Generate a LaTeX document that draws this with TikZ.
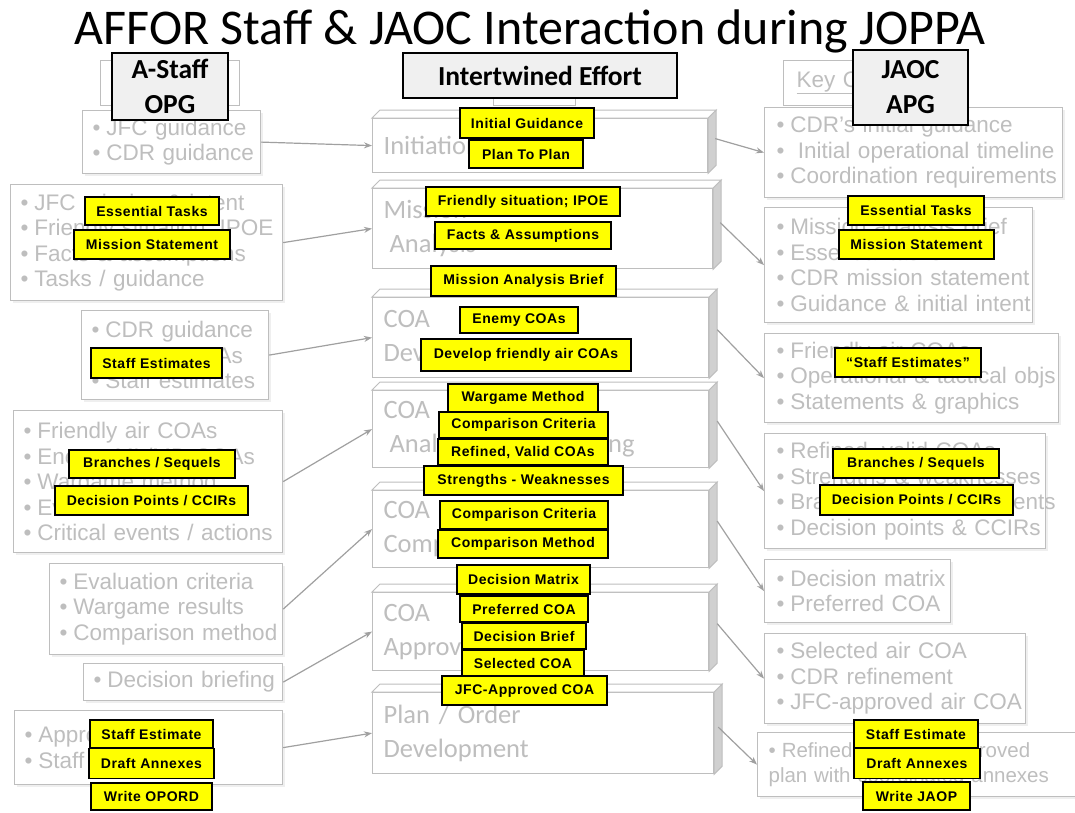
\documentclass[tikz,border=0pt]{standalone}
\usepackage{fontspec}
\setmainfont{Liberation Sans}
\newfontfamily\calfont{Carlito}
\newfontfamily\tagfont[LetterSpace=4]{Liberation Sans}
\usetikzlibrary{arrows.meta,calc,shadows}
\definecolor{fadetxt}{RGB}{190,190,190}
\definecolor{fadeline}{RGB}{190,190,190}
\definecolor{sideface}{RGB}{208,208,208}
\definecolor{arrowgray}{RGB}{160,160,160}
\definecolor{hdrfill}{RGB}{240,240,240}
\definecolor{tagyellow}{RGB}{255,255,0}
\newcommand\fbul[1]{\mbox{\textbullet\hspace{6pt}#1}}

\begin{document}
\begin{tikzpicture}[x=1pt,y=-1pt,
  fbox/.style={draw=fadeline, line width=1.2pt, fill=white, anchor=north west,
    inner xsep=10pt, inner ysep=0pt, align=left, text=fadetxt,
    font=\fontsize{22.5}{25.5}\selectfont,
    drop shadow={shadow xshift=2pt, shadow yshift=-2pt, opacity=0.12}},
  ghost/.style={draw=fadeline, line width=1.2pt, fill=white, anchor=north west,
    inner xsep=13pt, inner ysep=0pt, align=left, text=fadetxt,
    font=\fontsize{22.5}{25.5}\selectfont},
  blk/.style={draw=fadeline, line width=1.2pt, fill=white, anchor=north west,
    inner xsep=11pt, inner ysep=0pt, align=left, text=fadetxt,
    font=\calfont\fontsize{26.5}{34}\selectfont},
  face/.style={draw=fadeline, line width=1pt},
  conn/.style={draw=arrowgray, line width=1.2pt, -{Stealth[length=8pt,width=6pt]}},
  hdr/.style={draw=black, line width=2pt, fill=hdrfill, align=center, inner sep=0pt,
    font=\calfont\bfseries\fontsize{27.5}{35}\selectfont},
  tag/.style={draw=black, line width=1.1pt, fill=tagyellow, text=black, inner sep=0pt,
    minimum height=28pt, font=\tagfont\bfseries\fontsize{14}{15}\selectfont}
]
\useasboundingbox (0,0) rectangle (1075,812);
\fill[white] (0,0) rectangle (1075,812);

% title
\node[font=\calfont\fontsize{50}{56}\selectfont] (title) at (530,31)
  {AFFOR Staff \& JAOC Interaction during JOPPA};

% faded column headers underneath the overlays
\node[ghost, minimum width=139pt, minimum height=45pt] (hA) at (100,60) {};
\node[ghost, minimum width=82pt, minimum height=45pt] (hI) at (493,60) {};
\node[ghost, text width=136pt, minimum height=45pt] (hK) at (783,60) {\underline{Key Outputs}};

% A-Staff inputs (left column)
\node[fbox, text width=158pt, minimum height=63pt] (L1) at (82,110)
  {\fbul{JFC guidance}\\\fbul{CDR guidance}};
\node[fbox, text width=252pt, minimum height=116pt] (L2) at (10,184)
  {\fbul{JFC mission \& intent}\\\fbul{Friendly situation; IPOE}\\\fbul{Facts \& assumptions}\\\fbul{Tasks / guidance}};
\node[fbox, text width=167pt, minimum height=89pt] (L3) at (81,310)
  {\fbul{CDR guidance}\\\fbul{Enemy COAs}\\\fbul{Staff estimates}};
\node[fbox, text width=249pt, minimum height=142pt] (L4) at (13,410)
  {\fbul{Friendly air COAs}\\\fbul{Enemy ML/MD COAs}\\\fbul{Wargame method}\\\fbul{Evaluation criteria}\\\fbul{Critical events / actions}};
\node[fbox, text width=213pt, minimum height=91pt] (L5) at (49,563)
  {\fbul{Evaluation criteria}\\\fbul{Wargame results}\\\fbul{Comparison method}};
\node[fbox, text width=179pt, minimum height=37pt] (L6) at (83,663)
  {\fbul{Decision briefing}};
\node[fbox, text width=248pt, minimum height=74pt] (L7) at (14,710)
  {\fbul{Approved COA}\\\fbul{Staff estimates}};

% JAOC outputs (right column)
\node[fbox, inner xsep=12pt, text width=274pt, minimum height=90pt] (R1) at (764,107)
  {\fbul{CDR’s initial guidance}\\\fbul{\ Initial operational timeline}\\\fbul{Coordination requirements}};
\node[fbox, inner xsep=12pt, text width=244pt, minimum height=115pt] (R2) at (764,207)
  {\fbul{Mission analysis brief}\\\fbul{Essential tasks}\\\fbul{CDR mission statement}\\\fbul{Guidance \& initial intent}};
\node[fbox, inner xsep=12pt, text width=270pt, minimum height=89pt] (R3) at (764,333)
  {\fbul{Friendly air COAs}\\\fbul{Operational \& tactical objs}\\\fbul{Statements \& graphics}};
\node[fbox, inner xsep=12pt, text width=257pt, minimum height=115pt] (R4) at (764,433)
  {\fbul{Refined, valid COAs}\\\fbul{Strengths \& weaknesses}\\\fbul{Branches \& sequel events}\\\fbul{Decision points \& CCIRs}};
\node[fbox, inner xsep=12pt, text width=162pt, minimum height=63pt] (R5) at (764,559)
  {\fbul{Decision matrix}\\\fbul{Preferred COA}};
\node[fbox, inner xsep=12pt, text width=237pt, minimum height=90pt] (R6) at (764,633)
  {\fbul{Selected air COA}\\\fbul{CDR refinement}\\\fbul{JFC-approved air COA}};
\node[fbox, inner xsep=11pt, text width=318pt, minimum height=64pt,
  font=\fontsize{20.5}{25}\selectfont] (R7) at (757,732)
  {\fbul{Refined and JFC-approved}\\plan with coordinated annexes};

% JOPPA steps (centre column)
\node[blk, text width=313pt, minimum height=54pt] (ini) at (372,118) {Initiation};
\node[blk, text width=318pt, minimum height=80pt] (ma) at (372,188) {Mission\\\hspace{6pt}Analysis};
\node[blk, text width=314pt, minimum height=80pt] (dev) at (372,297) {COA\\Development};
\node[blk, text width=314pt, minimum height=77pt] (ana) at (372,390) {COA\\\hspace{6pt}Analysis \& Wargaming};
\node[blk, text width=314pt, minimum height=77pt] (cmp) at (372,490) {COA\\Comparison};
\node[blk, text width=314pt, minimum height=78pt] (apr) at (372,592) {COA\\Approval};
\node[blk, text width=319pt, minimum height=81pt] (plan) at (372,692) {Plan / Order\\Development};

% bevelled top and side of each step
\foreach \b in {ini,ma,dev,ana,cmp,apr,plan}{
  \draw[face, fill=white] (\b.north west) -- ++(8,-8) -- ($(\b.north east)+(8,-8)$) -- (\b.north east) -- cycle;
  \draw[face, fill=sideface] (\b.north east) -- ++(8,-8) -- ($(\b.south east)+(8,-8)$) -- (\b.south east) -- cycle;
}

% inputs into each step
\draw[conn] (L1.east) -- (ini.west);
\draw[conn] (L2.east) -- (ma.west);
\draw[conn] (L3.east) -- (dev.west);
\draw[conn] (L4.east) -- (ana.west);
\draw[conn] (L5.east) -- (cmp.west);
\draw[conn] (L6.east) -- (apr.west);
\draw[conn] (L7.east) -- (plan.west);

% outputs of each step
\draw[conn] ($(ini.east)+(7,-7)$) -- (R1.west);
\draw[conn] ($(ma.east)+(7,-6)$) -- (R2.west);
\draw[conn] ($(dev.east)+(8,-8)$) -- (R3.west);
\draw[conn] ($(ana.east)+(8,-8)$) -- (R4.west);
\draw[conn] ($(cmp.east)+(8,-8)$) -- (R5.west);
\draw[conn] ($(apr.east)+(8,-8)$) -- (R6.west);
\draw[conn] ($(plan.east)+(4,-6)$) -- (R7.west);

% column headers
\node[hdr, minimum width=116pt, minimum height=67pt] (hdrA) at (170,86.5) {A-Staff\\OPG};
\node[hdr, minimum width=274pt, minimum height=45pt] (hdrI) at (540,75.5) {Intertwined Effort};
\node[hdr, minimum width=115pt, minimum height=75pt] (hdrJ) at (910.5,87.5) {JAOC\\APG};

% yellow overlay tags: A-Staff side
\node[tag, minimum width=134pt] (tLess) at (152,211) {Essential Tasks};
\node[tag, minimum width=156pt, minimum height=29pt] (tLmis) at (152,244.5) {Mission Statement};
\node[tag, minimum width=131pt, minimum height=30pt] (tLse) at (156.5,363) {Staff Estimates};
\node[tag, minimum width=166pt] (tLbr) at (152,464) {Branches / Sequels};
\node[tag, minimum width=193pt, minimum height=29pt] (tLdp) at (151.5,500.5) {Decision Points / CCIRs};
\node[tag, minimum width=123pt] (tLse2) at (151.5,734) {Staff Estimate};
\node[tag, minimum width=125pt, minimum height=30pt] (tLda) at (151.5,763.5) {Draft Annexes};
\node[tag, minimum width=121pt, minimum height=27pt] (tLwo) at (151.5,796.5) {Write OPORD};

% yellow overlay tags: intertwined effort
\node[tag, minimum width=134pt, minimum height=30pt] (tIg) at (527,123) {Initial Guidance};
\node[tag, minimum width=114pt] (tPtp) at (526,154) {Plan To Plan};
\node[tag, minimum width=194pt, minimum height=29pt] (tFs) at (523,201.5) {Friendly situation; IPOE};
\node[tag, minimum width=176pt, minimum height=27pt] (tFa) at (523,235.5) {Facts \& Assumptions};
\node[tag, minimum width=185pt, minimum height=30pt] (tMab) at (523.5,281) {Mission Analysis Brief};
\node[tag, minimum width=118pt, minimum height=26pt] (tEc) at (519,320) {Enemy COAs};
\node[tag, minimum width=210pt, minimum height=32pt] (tDf) at (526,355) {Develop friendly air COAs};
\node[tag, minimum width=150pt] (tWm) at (523,398) {Wargame Method};
\node[tag, minimum width=169pt, minimum height=26pt] (tCc) at (523.5,425) {Comparison Criteria};
\node[tag, minimum width=170pt, minimum height=26pt] (tRv) at (523,452) {Refined, Valid COAs};
\node[tag, minimum width=199pt, minimum height=29pt] (tSw) at (523.5,480.5) {Strengths - Weaknesses};
\node[tag, minimum width=168pt] (tCc2) at (524,515) {Comparison Criteria};
\node[tag, minimum width=170pt] (tCm) at (523,544) {Comparison Method};
\node[tag, minimum width=133pt, minimum height=29pt] (tDm) at (523.5,579.5) {Decision Matrix};
\node[tag, minimum width=128pt, minimum height=26pt] (tPc) at (524,609) {Preferred COA};
\node[tag, minimum width=124pt, minimum height=26pt] (tDb) at (524,636) {Decision Brief};
\node[tag, minimum width=122pt, minimum height=26pt] (tSc) at (523,663) {Selected COA};
\node[tag, minimum width=165pt, minimum height=29pt] (tJa) at (524.5,690.5) {JFC-Approved COA};

% yellow overlay tags: JAOC side
\node[tag, minimum width=136pt, minimum height=29pt] (tRess) at (916,210.5) {Essential Tasks};
\node[tag, minimum width=155pt, minimum height=29pt] (tRmis) at (916.5,244.5) {Mission Statement};
\node[tag, minimum width=146pt, minimum height=29pt] (tRse) at (908,362.5) {“Staff Estimates”};
\node[tag, minimum width=166pt, minimum height=29pt] (tRbr) at (916,463.5) {Branches / Sequels};
\node[tag, minimum width=193pt, minimum height=30pt] (tRdp) at (916.5,500) {Decision Points / CCIRs};
\node[tag, minimum width=124pt] (tRse2) at (916,734) {Staff Estimate};
\node[tag, minimum width=126pt, minimum height=30pt] (tRda) at (917,763.5) {Draft Annexes};
\node[tag, minimum width=107pt, minimum height=28pt] (tRwj) at (916.5,796) {Write JAOP};
\end{tikzpicture}
\end{document}
